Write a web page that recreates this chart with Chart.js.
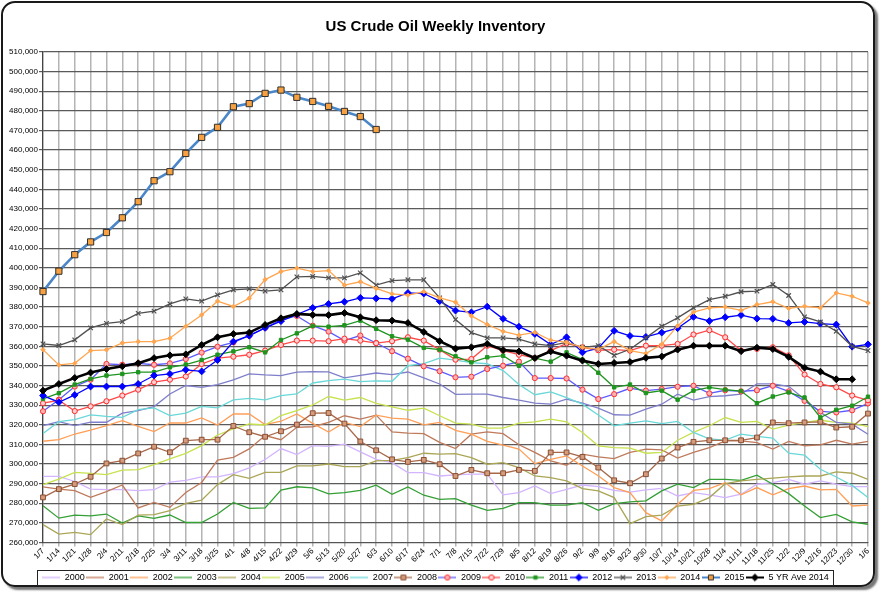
<!DOCTYPE html>
<html>
<head>
<meta charset="utf-8">
<script src="https://cdn.jsdelivr.net/npm/chart.js@4.4.1/dist/chart.umd.min.js"></script>
<style>
html, body { margin: 0; padding: 0; background: #fff; }
#frame { position: absolute; left: 1px; top: 1px; width: 870px; height: 582px; border: 2px solid #1a1a1a; border-radius: 14px; box-shadow: 3px 3px 2px #777; }
#wrap { position: absolute; left: 0; top: 0; width: 881px; height: 593px; }
</style>
</head>
<body>
<div id="frame"></div>
<div id="wrap"><canvas id="chart1" width="881" height="593"></canvas></div>
<script>
// ===== Data (thousand barrels) =====
const weeks = ['1/7','1/14','1/21','1/28','2/4','2/11','2/18','2/25','3/4','3/11','3/18','3/25',
  '4/1','4/8','4/15','4/22','4/29','5/6','5/13','5/20','5/27','6/3','6/10','6/17','6/24',
  '7/1','7/8','7/15','7/22','7/29','8/5','8/12','8/19','8/26','9/2','9/9','9/16','9/23','9/30',
  '10/7','10/14','10/21','10/28','11/4','11/11','11/18','11/25','12/2','12/9','12/16','12/23','12/30','1/6'];

const y2000 = [293.7,293.7,291.1,287.2,286.9,286.9,286.4,286.9,290.8,291.7,293.4,293.4,295.1,298.0,302.3,307.9,304.8,309.4,
  309.0,310.1,306.2,302.4,300.7,295.6,295.6,293.9,294.5,294.8,294.8,284.3,285.4,288.8,284.9,287.1,289.3,
  288.5,286.6,285.7,286.8,287.6,283.7,285.4,284.3,282.9,284.6,289.7,290.5,292.2,289.7,291.4,289.7,288.5,288.5];
const y2001 = [288.4,287.2,286.4,283.0,285.9,289.3,277.6,280.4,277.9,285.5,290.6,302.0,303.4,307.7,314.5,312.4,318.7,319.0,
  321.2,324.6,322.9,324.9,316.4,315.7,315.5,311.0,307.9,315.2,316.4,315.5,309.8,305.9,301.6,299.4,305.0,
  303.6,302.8,305.9,307.6,307.2,303.0,305.9,308.4,311.8,311.8,310.9,307.6,311.5,309.3,309.8,312.1,310.1,311.5];
const y2002 = [311.6,312.4,315.3,317.3,319.6,322.1,319.2,316.5,320.9,320.9,323.5,319.9,325.5,325.5,320.1,321.8,325.5,320.7,
  316.3,321.2,319.1,324.9,323.4,322.9,320.0,321.2,317.2,315.2,311.5,309.6,307.6,300.2,302.4,304.1,299.0,
  294.0,288.0,285.4,275.2,271.0,279.5,286.6,287.5,290.5,284.3,288.0,284.3,287.5,288.8,286.8,287.1,278.6,279.0];
const y2003 = [278.7,272.4,274.0,273.6,274.5,269.9,273.6,272.3,274.0,270.2,270.2,274.5,280.4,277.4,277.6,286.7,288.4,287.8,
  284.8,285.4,286.6,289.2,284.6,288.3,284.1,282.0,282.4,279.1,276.4,277.4,280.3,280.3,279.0,279.0,280.3,
  276.4,279.8,280.7,281.2,286.3,289.7,288.0,292.2,292.2,291.7,294.3,289.7,284.9,278.6,272.7,274.3,270.5,269.3];
const y2004 = [269.1,264.3,265.2,264.0,272.0,269.1,274.0,274.2,276.2,279.9,281.6,289.5,294.6,292.7,295.7,295.7,299.1,299.1,
  300.0,298.7,298.7,301.6,301.9,303.3,305.5,305.0,305.3,303.3,299.9,300.7,298.2,293.9,293.1,291.4,287.5,
  286.3,282.9,269.6,273.2,274.0,278.6,279.5,282.9,290.0,291.4,292.2,292.8,293.4,293.9,293.9,296.0,295.3,292.2];
const y2005 = [289.5,292.3,295.7,295.2,294.6,296.9,297.1,299.7,302.6,305.4,309.4,314.8,317.9,320.4,319.9,324.7,327.2,330.1,
  334.4,332.6,333.9,330.9,329.1,327.4,328.5,324.6,320.8,320.3,318.3,318.3,320.8,321.5,322.9,321.5,316.1,
  309.3,308.4,308.1,305.5,305.9,312.1,316.1,319.5,323.7,321.2,321.7,317.8,319.8,321.2,322.3,321.2,320.8,319.1];
const y2006 = [319.6,321.6,319.6,321.3,321.3,325.9,327.2,329.3,335.7,340.0,339.1,340.5,342.9,345.9,345.4,345.1,346.8,347.1,
  347.0,343.9,345.2,346.4,345.6,346.9,343.9,340.8,335.5,335.6,335.6,333.9,332.6,331.0,330.5,333.1,331.0,
  328.5,325.1,324.9,328.0,330.5,335.6,332.6,334.3,334.8,335.6,340.8,340.8,339.6,333.0,326.3,321.2,320.3,315.2];
const y2007 = [315.6,321.6,322.6,325.0,324.3,323.8,327.7,328.6,324.7,325.9,329.4,328.6,332.7,333.5,332.7,334.9,335.7,341.3,
  342.5,343.3,342.0,342.4,342.2,350.1,351.2,354.0,352.9,351.7,351.1,347.6,340.5,335.3,336.8,333.8,330.5,
  325.0,319.5,320.8,322.0,320.6,321.7,316.1,312.8,312.2,315.2,314.1,313.2,305.5,304.5,297.3,293.4,289.1,282.9];
const y2008 = [283.0,287.2,289.8,293.5,300.3,301.7,305.4,308.8,306.0,311.9,312.4,312.4,319.4,316.2,313.9,316.7,320.1,325.9,
  326.0,320.6,311.5,307.0,302.4,301.1,302.1,299.9,293.9,297.0,295.3,295.3,297.0,296.5,305.9,305.9,303.6,
  298.2,291.7,290.2,294.8,302.8,308.4,311.3,312.1,312.1,312.1,313.5,321.2,320.8,321.2,321.5,318.6,319.0,325.7];
const y2009 = [326.9,332.8,339.5,343.0,351.0,350.6,351.3,350.6,351.3,353.5,356.8,359.8,362.0,365.4,369.4,373.5,375.5,370.5,
  367.5,362.9,365.5,361.7,357.5,353.7,349.8,347.3,344.2,344.5,348.4,350.1,352.2,343.8,343.8,343.6,337.9,
  333.1,335.6,338.6,337.4,338.2,339.4,339.9,336.0,337.6,337.0,337.6,339.9,337.0,332.2,326.8,326.3,327.4,330.9];
const y2010 = [331.0,332.5,327.0,329.4,332.0,334.9,337.9,341.7,343.0,344.6,351.0,354.0,354.7,355.7,357.8,360.7,362.9,362.9,
  362.6,363.9,362.9,361.6,362.6,364.6,362.9,358.3,353.2,353.5,360.3,357.8,355.7,354.0,357.8,361.5,359.5,
  358.0,358.3,357.8,360.3,360.3,361.2,366.0,368.2,364.6,357.8,358.7,359.5,355.4,345.6,340.8,339.1,334.9,332.5];
const y2011 = [333.2,336.1,340.5,343.4,345.1,345.9,346.8,346.8,349.3,350.7,353.0,355.7,357.4,359.5,356.9,363.2,366.6,370.4,
  370.0,370.7,373.1,368.9,365.1,363.4,359.2,358.3,354.9,351.8,354.4,355.2,350.1,354.0,352.2,356.9,353.2,
  346.5,339.1,340.5,336.2,337.4,332.8,337.4,339.1,337.9,337.2,331.0,334.4,336.5,333.9,323.7,327.6,329.7,334.3];
const y2012 = [334.9,331.5,335.2,339.5,339.5,339.5,340.8,345.1,345.9,348.0,347.2,353.0,362.4,365.4,369.4,372.8,376.2,379.6,
  381.6,382.7,384.7,384.4,384.2,387.2,386.9,383.0,378.2,377.3,380.2,374.0,370.0,366.3,360.9,364.6,356.9,
  359.0,367.9,365.3,364.8,367.0,369.2,375.0,372.9,374.8,375.9,374.1,374.0,371.9,372.4,371.6,371.1,359.8,361.0];
const y2013 = [361.2,360.4,363.3,369.4,371.7,372.6,376.8,377.9,381.6,384.2,383.0,386.2,388.8,389.3,388.1,388.8,395.4,395.6,
  394.9,394.9,397.4,391.2,393.5,393.9,393.9,384.7,373.6,367.0,364.3,364.3,363.7,361.2,360.3,362.0,359.5,
  360.3,355.4,358.5,364.3,370.2,374.5,379.6,383.8,385.5,387.8,388.1,391.5,385.9,375.0,372.4,367.7,360.0,357.8];
const y2014 = [358.3,350.5,351.3,357.8,358.2,361.7,362.4,362.4,364.1,370.2,376.0,383.0,380.3,384.5,394.0,398.1,399.8,398.1,
  398.6,391.2,392.9,389.5,386.7,386.1,387.8,384.7,382.5,375.5,371.1,367.6,365.7,367.1,363.1,362.0,359.5,
  358.5,362.4,357.8,356.3,361.0,370.4,377.4,379.6,380.0,378.3,381.3,382.7,379.3,380.4,379.6,387.2,385.5,382.1];
const y2015 = [387.9,398.3,406.7,413.2,418.0,425.5,433.7,444.4,449.0,458.3,466.5,471.6,482.1,483.7,488.9,490.6,
  486.9,484.8,482.3,479.7,477.1,470.5];
const avg5yr = [337.4,340.8,343.9,346.6,348.4,349.8,351.4,354.0,355.4,355.9,360.7,364.6,366.3,367.0,370.9,374.3,376.5,376.0,375.9,
  377.0,374.8,373.3,373.1,371.9,367.3,362.6,358.8,359.5,361.2,358.1,357.4,354.0,357.4,355.2,352.7,
  351.0,351.5,352.0,354.1,354.8,358.3,360.3,360.3,360.3,357.5,359.3,358.6,354.6,349.1,347.1,343.2,343.2,null];

const yMin = 260000, yMax = 510000, yStep = 10000;

// ===== Styles =====
Chart.defaults.font.family = "'Liberation Sans', Arial, sans-serif";
Chart.defaults.color = '#000';

function sample(ds) {
    const c = document.createElement('canvas');
    c.width = 18; c.height = 10;
    const g = c.getContext('2d');
    g.strokeStyle = ds.borderColor;
    g.lineWidth = Math.min(ds.borderWidth, 2);
    g.beginPath(); g.moveTo(0, 5); g.lineTo(18, 5); g.stroke();
    if (ds.pointRadius > 0) {
        g.fillStyle = ds.pointBackgroundColor;
        g.strokeStyle = ds.pointBorderColor;
        g.lineWidth = ds.pointBorderWidth;
        Chart.helpers.drawPoint(g, {pointStyle: ds.pointStyle, radius: Math.min(ds.pointRadius, 3.5), rotation: 0, borderWidth: ds.pointBorderWidth}, 9, 5);
    }
    return c;
}

let order = 20;
function series(label, values, color, width, opts) {
    const o = opts || {};
    return {
        label: label,
        data: values.map(v => v === null ? null : v * 1000),
        borderColor: color,
        backgroundColor: color,
        borderWidth: width,
        pointStyle: o.style || 'circle',
        pointRadius: o.r || 0,
        pointBackgroundColor: o.fill || color,
        pointBorderColor: o.edge || color,
        pointBorderWidth: o.bw || 1,
        tension: 0,
        order: order--
    };
}

const datasets = [
    series('2000', y2000, '#d2b4ff', 1.3),
    series('2001', y2001, '#bf7a5c', 1.3),
    series('2002', y2002, '#ff9e57', 1.3),
    series('2003', y2003, '#35a035', 1.3),
    series('2004', y2004, '#aaa656', 1.3),
    series('2005', y2005, '#c6e24e', 1.3),
    series('2006', y2006, '#7f7fcc', 1.3),
    series('2007', y2007, '#6ad8d8', 1.3),
    series('2008', y2008, '#a8694a', 1.3, {style: 'rect', r: 3.4, fill: '#d49c7c', edge: '#8a4f35'}),
    series('2009', y2009, '#5b5bff', 1.3, {style: 'circle', r: 2.6, fill: '#ffb0b0', edge: '#ff3030'}),
    series('2010', y2010, '#ff4a4a', 1.3, {style: 'circle', r: 2.6, fill: '#ffd0d0', edge: '#ff2a2a'}),
    series('2011', y2011, '#1f951f', 1.3, {style: 'rect', r: 2.4}),
    series('2012', y2012, '#0000ff', 1.3, {style: 'rectRot', r: 3.4}),
    series('2013', y2013, '#505050', 1.3, {style: 'crossRot', r: 3.2, bw: 1.2}),
    series('2014', y2014, '#ffa54f', 1.3, {style: 'rectRot', r: 2.2}),
    series('2015', y2015, '#4a86c8', 2.6, {style: 'rect', r: 4.4, fill: '#f6a040', edge: '#303030', bw: 1}),
    series('5 YR Ave 2014', avg5yr, '#000000', 2.6, {style: 'rectRot', r: 3.4})
];

// ===== Legend frame =====
const legendBox = {
    id: 'legendBox',
    afterDraw(chart) {
        const lg = chart.legend;
        if (!lg || !lg.legendHitBoxes || !lg.legendHitBoxes.length) return;
        const hb = lg.legendHitBoxes;
        const left = hb[0].left;
        const last = hb[hb.length - 1];
        const right = last.left + last.width;
        const top = hb[0].top;
        const ctx = chart.ctx;
        ctx.save();
        ctx.strokeStyle = '#222';
        ctx.lineWidth = 1;
        ctx.strokeRect(Math.round(left - 5) + 0.5, Math.round(top - 3) + 0.5, Math.round(right - left + 9), 15);
        ctx.restore();
    }
};

// ===== Chart =====
const chart1 = new Chart(document.getElementById('chart1'), {
    type: 'line',
    data: { labels: weeks, datasets: datasets },
    plugins: [legendBox],
    options: {
        responsive: false,
        animation: false,
        layout: { padding: { left: 3, right: 13, top: 0, bottom: 1 } },
        plugins: {
            title: {
                display: true,
                text: 'US Crude Oil Weekly Inventory',
                font: { size: 15, weight: 'bold' },
                color: '#000',
                padding: { top: 18, bottom: 16 }
            },
            legend: {
                position: 'bottom',
                labels: {
                    usePointStyle: true,
                    pointStyleWidth: 18,
                    padding: 1.5,
                    font: { size: 9 },
                    color: '#000',
                    sort: (a, b) => a.datasetIndex - b.datasetIndex,
                    generateLabels(chart) {
                        const items = Chart.defaults.plugins.legend.labels.generateLabels(chart);
                        items.forEach(it => { it.pointStyle = sample(chart.data.datasets[it.datasetIndex]); });
                        return items;
                    }
                }
            },
            tooltip: { enabled: false }
        },
        scales: {
            x: {
                offset: false,
                grid: { color: '#b4b4b4', lineWidth: 1.5, tickLength: 4, offset: false },
                border: { color: '#555', width: 1 },
                ticks: { autoSkip: false, maxRotation: 45, minRotation: 45, font: { size: 8 }, padding: 0 },
                afterFit(scale) { scale.height = 29; }
            },
            y: {
                min: yMin,
                max: yMax,
                grid: { color: '#5a5a5a', lineWidth: 1.2, tickLength: 4 },
                border: { color: '#444', width: 1.2 },
                ticks: {
                    stepSize: yStep,
                    font: { size: 8 },
                    padding: 1,
                    callback: v => v.toLocaleString('en-US')
                },
                afterFit(scale) { scale.width = 40; }
            }
        }
    }
});
</script>
</body>
</html>
